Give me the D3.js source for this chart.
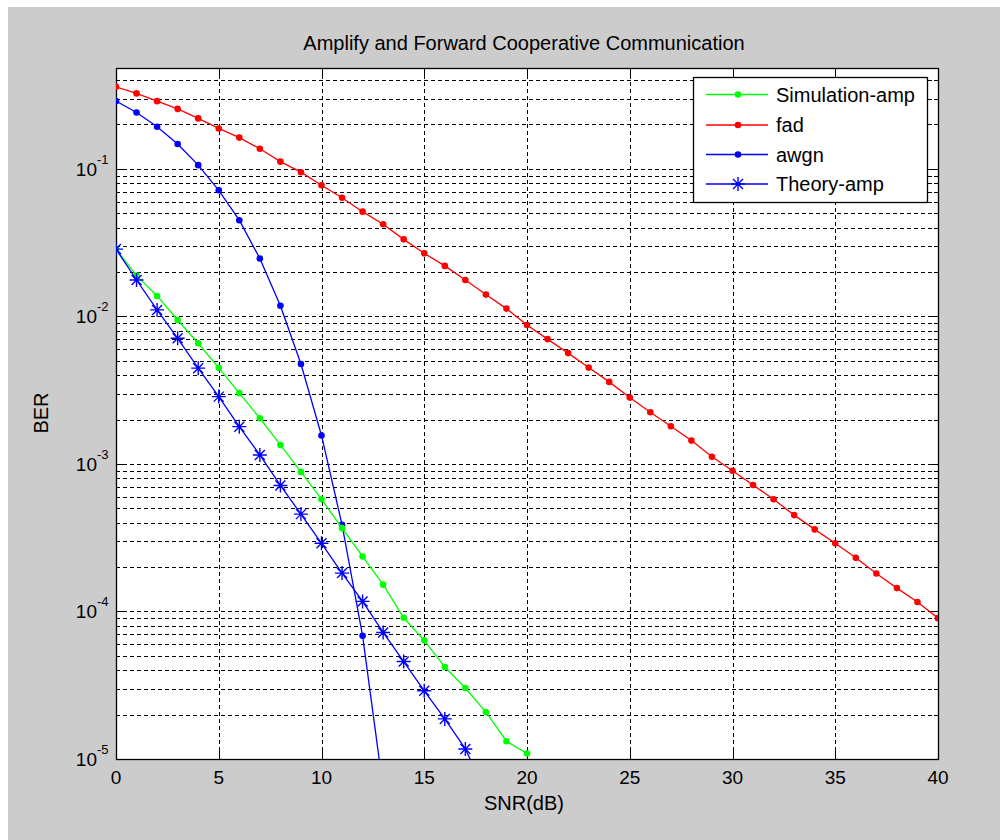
<!DOCTYPE html>
<html>
<head>
<meta charset="utf-8">
<script src="https://cdn.jsdelivr.net/npm/d3@7"></script>
<style>
  html, body { margin: 0; padding: 0; background: #fff; }
  svg text { font-family: Arial, "Liberation Sans", Helvetica, sans-serif; fill: #000; }
</style>
</head>
<body>
<svg id="chart" width="1000" height="840"></svg>
<script>
// ---- data ----
const snrFad = [0,1,2,3,4,5,6,7,8,9,10,11,12,13,14,15,16,17,18,19,20,21,22,23,24,25,26,27,28,29,30,31,32,33,34,35,36,37,38,39,40];
const berFad = [0.36,0.325,0.288,0.255,0.22,0.188,0.163,0.137,0.112,0.095,0.0775,0.0638,0.0513,0.0422,0.0333,0.0268,0.022,0.01766,0.01406,0.0113,
                0.00875,0.00702,0.00564,0.0045,0.0036,0.00282,0.00224,0.0018,0.00144,0.00112,0.0009,0.00072,0.000576,0.00045,0.00036,0.00029,
                0.000231,0.000181,0.000144,0.000116,0.0000901];

const snrAwgn = [0,1,2,3,4,5,6,7,8,9,10,11,12,13];
const berAwgn = [0.288,0.241,0.193,0.1475,0.106,0.0716,0.0449,0.0247,0.0118,0.00476,0.00156,0.000387,0.0000684,0.0000063];

const snrSim = [0,1,2,3,4,5,6,7,8,9,10,11,12,13,14,15,16,17,18,19,20];
const berSim = [0.0286,0.0189,0.01377,0.00946,0.00658,0.00448,0.00302,0.00204,0.001345,0.000883,0.000577,0.000367,0.000236,0.000152,
                0.0000906,0.0000637,0.000042,0.0000303,0.0000208,0.0000132,0.0000109];

const snrTheory = [0,1,2,3,4,5,6,7,8,9,10,11,12,13,14,15,16,17,18];
const berTheory = [0.0286,0.01766,0.01107,0.00711,0.00446,0.00286,0.00179,0.00115,0.000715,0.000457,0.00029,0.000182,0.000117,
                   0.0000721,0.0000458,0.000029,0.0000187,0.0000117,0.0000059];

const xTicks = [0,5,10,15,20,25,30,35,40];
const yDecades = [-5,-4,-3,-2,-1];

const legendNames = ["Simulation-amp", "fad", "awgn", "Theory-amp"];

// ---- layout ----
const svg = d3.select("#chart");
const plot = { left: 116, right: 938, top: 68, bottom: 759 };

// figure background
svg.append("rect").attr("x", 8).attr("y", 7).attr("width", 992).attr("height", 833).attr("fill", "#cccccc");

const x = d3.scaleLinear().domain([0, 40]).range([plot.left, plot.right]);
const y = d3.scaleLog().domain([1e-5, 0.483]).range([plot.bottom, plot.top]);

svg.append("rect")
  .attr("x", plot.left).attr("y", plot.top)
  .attr("width", plot.right - plot.left).attr("height", plot.bottom - plot.top)
  .attr("fill", "#fff");

svg.append("clipPath").attr("id", "clip")
  .append("rect")
  .attr("x", plot.left).attr("y", plot.top)
  .attr("width", plot.right - plot.left).attr("height", plot.bottom - plot.top);

// y grid values: every 1..9 x 10^k inside the domain
const yGrid = [];
yDecades.forEach(k => {
  for (let m = 1; m <= 9; m++) {
    const v = m * Math.pow(10, k);
    if (v > 1e-5 && v < 0.483) yGrid.push(v);
  }
});

const grid = svg.append("g").attr("stroke", "#000").attr("stroke-width", 1).attr("stroke-dasharray", "4,3");
grid.selectAll(".gy").data(yGrid).join("line")
  .attr("x1", plot.left).attr("x2", plot.right)
  .attr("y1", d => Math.round(y(d)) + 0.5).attr("y2", d => Math.round(y(d)) + 0.5);
grid.selectAll(".gx").data(xTicks.filter(d => d > 0 && d < 40)).join("line")
  .attr("x1", d => Math.round(x(d)) + 0.5).attr("x2", d => Math.round(x(d)) + 0.5)
  .attr("y1", plot.top).attr("y2", plot.bottom);

// ticks (inside, on all four sides)
const ticks = svg.append("g").attr("stroke", "#000").attr("stroke-width", 1);
xTicks.forEach(t => {
  const px = Math.round(x(t)) + 0.5;
  ticks.append("line").attr("x1", px).attr("x2", px).attr("y1", plot.bottom).attr("y2", plot.bottom - 8);
  ticks.append("line").attr("x1", px).attr("x2", px).attr("y1", plot.top).attr("y2", plot.top + 8);
});
yGrid.concat([1e-5]).forEach(v => {
  const major = Math.abs(Math.log10(v) - Math.round(Math.log10(v))) < 1e-9;
  const len = major ? 8 : 4;
  const py = Math.round(y(v)) + 0.5;
  ticks.append("line").attr("x1", plot.left).attr("x2", plot.left + len).attr("y1", py).attr("y2", py);
  ticks.append("line").attr("x1", plot.right).attr("x2", plot.right - len).attr("y1", py).attr("y2", py);
});

// frame
svg.append("rect")
  .attr("x", plot.left + 0.5).attr("y", plot.top + 0.5)
  .attr("width", plot.right - plot.left).attr("height", plot.bottom - plot.top)
  .attr("fill", "none").attr("stroke", "#000").attr("stroke-width", 1.3);

// tick labels
svg.append("g").selectAll("text").data(xTicks).join("text")
  .attr("x", d => x(d)).attr("y", 784)
  .attr("text-anchor", "middle").attr("font-size", 19)
  .text(d => d);

const yLab = svg.append("g");
yDecades.forEach(k => {
  const t = yLab.append("text").attr("x", 97).attr("y", y(Math.pow(10, k)) + 7)
    .attr("text-anchor", "end").attr("font-size", 19).text("10");
  yLab.append("text").attr("x", 97).attr("y", y(Math.pow(10, k)) - 5)
    .attr("font-size", 13).text(k);
});

// axis labels and title
svg.append("text").attr("x", 524).attr("y", 810).attr("text-anchor", "middle").attr("font-size", 20).text("SNR(dB)");
svg.append("text").attr("transform", "translate(48,413) rotate(-90)")
  .attr("text-anchor", "middle").attr("font-size", 20).text("BER");
svg.append("text").attr("x", 524).attr("y", 50).attr("text-anchor", "middle").attr("font-size", 20)
  .text("Amplify and Forward Cooperative Communication");

// ---- series ----
const series = [
  { name: legendNames[0], xs: snrSim, ys: berSim, color: "#00ff00", marker: "dot" },
  { name: legendNames[1], xs: snrFad, ys: berFad, color: "#ff0000", marker: "dot" },
  { name: legendNames[2], xs: snrAwgn, ys: berAwgn, color: "#0000ff", marker: "dot" },
  { name: legendNames[3], xs: snrTheory, ys: berTheory, color: "#0000ff", marker: "star" }
];

const line = d3.line().x(d => x(d[0])).y(d => y(d[1]));
const plotG = svg.append("g").attr("clip-path", "url(#clip)");

function drawMarker(g, cx, cy, s) {
  if (s.marker === "dot") {
    g.append("circle").attr("cx", cx).attr("cy", cy).attr("r", 3.3).attr("fill", s.color);
  } else {
    const r = 7, d = 5;
    g.append("path")
      .attr("d", `M${cx - r},${cy}H${cx + r}M${cx},${cy - r}V${cy + r}M${cx - d},${cy - d}L${cx + d},${cy + d}M${cx - d},${cy + d}L${cx + d},${cy - d}`)
      .attr("stroke", s.color).attr("stroke-width", 1.4).attr("fill", "none");
  }
}

// draw order: fad, awgn, sim, theory
[series[1], series[2], series[0], series[3]].forEach(s => {
  const pts = s.xs.map((v, i) => [v, s.ys[i]]);
  plotG.append("path").datum(pts).attr("d", line)
    .attr("fill", "none").attr("stroke", s.color).attr("stroke-width", 1.3);
  pts.forEach(p => drawMarker(plotG, x(p[0]), y(p[1]), s));
});

// ---- legend ----
const lg = svg.append("g");
lg.append("rect").attr("x", 693.5).attr("y", 77.5).attr("width", 234).attr("height", 125)
  .attr("fill", "#fff").attr("stroke", "#000").attr("stroke-width", 1.3);
const rowY = [94.5, 125, 154.5, 184];
series.forEach((s, i) => {
  lg.append("line").attr("x1", 706).attr("x2", 768).attr("y1", rowY[i]).attr("y2", rowY[i])
    .attr("stroke", s.color).attr("stroke-width", 1.3);
  drawMarker(lg, 738, rowY[i], s);
  lg.append("text").attr("x", 776).attr("y", rowY[i] + 7).attr("font-size", 20).text(s.name);
});
</script>
</body>
</html>
